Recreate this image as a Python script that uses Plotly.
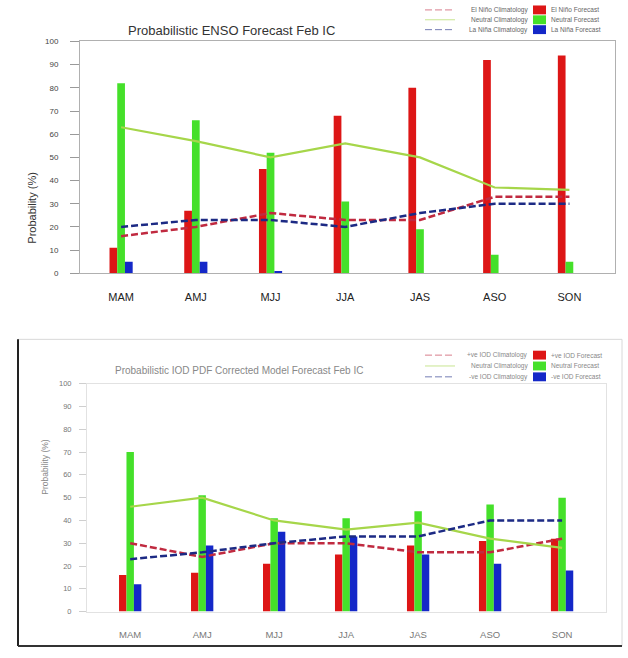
import plotly.graph_objects as go

# ---- data -------------------------------------------------------------
seasons = ["MAM", "AMJ", "MJJ", "JJA", "JAS", "ASO", "SON"]
y_tick_vals = list(range(0, 101, 10))

# ENSO forecast probabilities (%)
enso_elnino_fc = [11, 27, 45, 68, 80, 92, 94]
enso_neutral_fc = [82, 66, 52, 31, 19, 8, 5]
enso_lanina_fc = [5, 5, 1, 0, 0, 0, 0]
# ENSO climatological probabilities (%)
enso_elnino_clim = [16, 20, 26, 23, 23, 33, 33]
enso_neutral_clim = [63, 57, 50, 56, 50, 37, 36]
enso_lanina_clim = [20, 23, 23, 20, 26, 30, 30]

# IOD forecast probabilities (%)
iod_pos_fc = [16, 17, 21, 25, 29, 31, 32]
iod_neutral_fc = [70, 51, 41, 41, 44, 47, 50]
iod_neg_fc = [12, 29, 35, 33, 25, 21, 18]
# IOD climatological probabilities (%)
iod_pos_clim = [30, 24, 30, 30, 26, 26, 32]
iod_neutral_clim = [46, 50, 40, 36, 39, 32, 28]
iod_neg_clim = [23, 26, 30, 33, 33, 40, 40]

enso_clim_names = ["El Niño Climatology", "Neutral Climatology", "La Niña Climatology"]
enso_fc_names = ["El Niño Forecast", "Neutral Forecast", "La Niña Forecast"]
iod_clim_names = ["+ve IOD Climatology", "Neutral Climatology", "-ve IOD Climatology"]
iod_fc_names = ["+ve IOD Forecast", "Neutral Forecast", "-ve IOD Forecast"]

# ---- styles -----------------------------------------------------------
W, H = 628, 658
FONT = "Arial, Liberation Sans, DejaVu Sans, sans-serif"
bar_colors = ["#dd1616", "#45e02a", "#1428c8"]
line_styles = [
    dict(color="#c02a40", width=2.5, dash="7px,3px"),
    dict(color="#a6d64a", width=2.2, dash="solid"),
    dict(color="#1c2a84", width=2.5, dash="7px,3px"),
]


def px(x):
    return x / W


def py(y):
    return 1 - y / H


fig = go.Figure()


def add_panel(xa, ya, fc_sets, clim_sets, fc_names, clim_names):
    for vals, name, col in zip(fc_sets, fc_names, bar_colors):
        fig.add_trace(go.Bar(x=seasons, y=vals, name=name, marker_color=col,
                             marker_line_width=0, xaxis=xa, yaxis=ya,
                             showlegend=False))
    for vals, name, ls in zip(clim_sets, clim_names, line_styles):
        fig.add_trace(go.Scatter(x=seasons, y=vals, name=name, mode="lines",
                                 line=ls, xaxis=xa, yaxis=ya, showlegend=False))


add_panel("x", "y",
          [enso_elnino_fc, enso_neutral_fc, enso_lanina_fc],
          [enso_elnino_clim, enso_neutral_clim, enso_lanina_clim],
          enso_fc_names, enso_clim_names)
add_panel("x2", "y2",
          [iod_pos_fc, iod_neutral_fc, iod_neg_fc],
          [iod_pos_clim, iod_neutral_clim, iod_neg_clim],
          iod_fc_names, iod_clim_names)

# ---- axes -------------------------------------------------------------
fig.update_layout(
    width=W, height=H,
    margin=dict(l=0, r=0, t=0, b=0),
    paper_bgcolor="white", plot_bgcolor="white",
    barmode="group", bargap=0.69, bargroupgap=0,
    font=dict(family=FONT),
    xaxis=dict(domain=[px(80), px(615)], anchor="y", type="category",
               range=[-0.55, 6.61], showline=True, mirror=True,
               linecolor="#b0b0b0", linewidth=1, ticks="", showgrid=False,
               tickfont=dict(size=11, color="#222"), ticklabelstandoff=14),
    yaxis=dict(domain=[py(273), py(38)], anchor="x", range=[0, 100],
               tickvals=y_tick_vals, showline=True, mirror=True,
               linecolor="#b0b0b0", linewidth=1, showgrid=False,
               ticks="outside", ticklen=9, tickcolor="#9a9a9a",
               tickfont=dict(size=8, color="#444"), ticklabelstandoff=10,
               zeroline=False),
    xaxis2=dict(domain=[px(87), px(606)], anchor="y2", type="category",
                range=[-0.6, 6.61], showline=True, mirror=True,
                linecolor="#e2e2e2", linewidth=1, ticks="", showgrid=False,
                tickfont=dict(size=9.5, color="#777"), ticklabelstandoff=14),
    yaxis2=dict(domain=[py(616), py(385)], anchor="x2", range=[0, 100],
                tickvals=y_tick_vals, showline=True, mirror=True,
                linecolor="#e2e2e2", linewidth=1, showgrid=False,
                ticks="outside", ticklen=7, tickcolor="#cfcfcf",
                tickfont=dict(size=7.5, color="#777"), ticklabelstandoff=6,
                zeroline=False),
)

# ---- titles -----------------------------------------------------------
def text(s, x, y, size, color, **kw):
    fig.add_annotation(text=s, x=px(x), y=py(y), xref="paper", yref="paper",
                       showarrow=False, font=dict(size=size, color=color,
                                                   family=FONT), **kw)


text("Probabilistic ENSO Forecast Feb IC", 232, 17, 13, "#333")
text("Probability (%)", 24, 168, 11, "#333", textangle=-90)
text("Probabilistic IOD PDF Corrected Model Forecast Feb IC", 239, 372, 10, "#888")
text("Probability (%)", 38, 500, 8.5, "#888", textangle=-90)

# ---- keys -------------------------------------------------------------
def draw_key(rows_y, clim_names, fc_names, key_color):
    for yy, cn, fn, ls, bc in zip(rows_y, clim_names, fc_names,
                                  line_styles, bar_colors):
        fig.add_shape(type="line", xref="paper", yref="paper",
                      x0=px(425), x1=px(455), y0=py(yy), y1=py(yy),
                      line=dict(color=ls["color"], width=1, dash=ls["dash"]),
                      opacity=0.6)
        text(cn, 530, yy, 6.5, key_color, xanchor="right", yanchor="middle")
        fig.add_shape(type="rect", xref="paper", yref="paper",
                      x0=px(533), x1=px(546), y0=py(yy + 4.5), y1=py(yy - 4.5),
                      fillcolor=bc, line_width=0)
        text(fn, 549, yy, 6.5, key_color, xanchor="left", yanchor="middle")


draw_key([6, 16, 26], enso_clim_names, enso_fc_names, "#666")
draw_key([356, 367, 378], iod_clim_names, iod_fc_names, "#888")

# ---- frame around the lower panel --------------------------------------
fig.add_shape(type="rect", xref="paper", yref="paper",
              x0=px(18), x1=px(622), y0=py(651), y1=py(340),
              line=dict(color="#d8d8d8", width=1))
fig.add_shape(type="line", xref="paper", yref="paper",
              x0=px(18), x1=px(18), y0=py(651), y1=py(340),
              line=dict(color="#222", width=2))
fig.add_shape(type="line", xref="paper", yref="paper",
              x0=px(18), x1=px(622), y0=py(651), y1=py(651),
              line=dict(color="#333", width=2))

fig.write_html("out.html")
